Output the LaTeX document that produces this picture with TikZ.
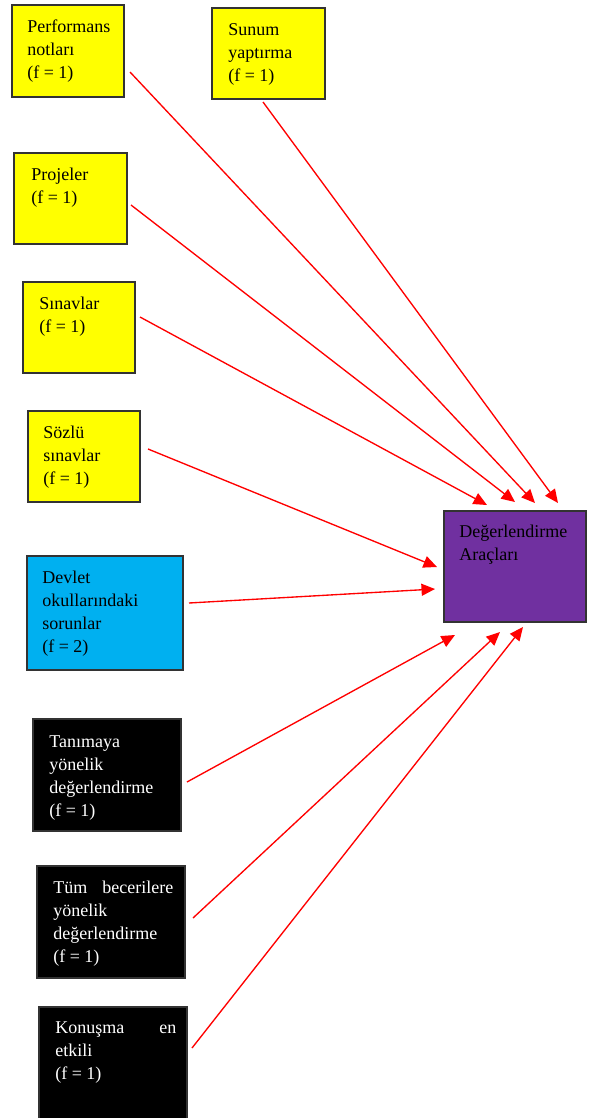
\documentclass[tikz,border=0pt]{standalone}
\usepackage{fontspec}
\setmainfont{Liberation Serif}
\usetikzlibrary{arrows.meta,fit}
\definecolor{yfill}{HTML}{FFFF00}
\definecolor{cfill}{HTML}{00B0F0}
\definecolor{pfill}{HTML}{7030A0}
\definecolor{edge}{HTML}{333333}
\begin{document}
\begin{tikzpicture}[x=0.6667pt,y=-0.6667pt,
  box/.style={draw=edge, line width=0.75pt, inner sep=0pt},
  ybox/.style={box, fill=yfill},
  cbox/.style={box, fill=cfill},
  pbox/.style={box, fill=pfill},
  kbox/.style={box, fill=black},
  txt/.style={anchor=north west, inner sep=0pt, align=left, font=\fontsize{12}{15.4}\selectfont},
  wtxt/.style={txt, text=white},
  arr/.style={red, line width=0.9pt, -{Triangle[length=9pt,width=8pt]}}]
\useasboundingbox (0,0) rectangle (589,1118);

% boxes
\node[ybox, fit={(12,5) (124,97)}] (perf) {};
\node[ybox, fit={(212,8) (325,99)}] (sunum) {};
\node[ybox, fit={(14,153) (127,244)}] (proj) {};
\node[ybox, fit={(23,282) (135,373)}] (sinav) {};
\node[ybox, fit={(28,411) (140,502)}] (sozlu) {};
\node[cbox, fit={(27,556) (183,670)}] (devlet) {};
\node[pbox, fit={(444,511) (586,622)}] (deg) {};
\node[kbox, fit={(33,719) (181,831)}] (tan) {};
\node[kbox, fit={(37,866) (185,978)}] (tum) {};
\node[kbox, fit={(39,1007) (187,1130)}] (kon) {};

% texts (top = first baseline - 13.5)
\node[txt] (perf-t) at (27,18.5) {\rule{0pt}{9pt}Performans\\notları\\(f = 1)};
\node[txt] (sunum-t) at (228,21.5) {\rule{0pt}{9pt}Sunum\\yaptırma\\(f = 1)};
\node[txt] (proj-t) at (31,166.5) {\rule{0pt}{9pt}Projeler\\(f = 1)};
\node[txt] (sinav-t) at (39,295.5) {\rule{0pt}{9pt}Sınavlar\\(f = 1)};
\node[txt] (sozlu-t) at (43,424.5) {\rule{0pt}{9pt}Sözlü\\sınavlar\\(f = 1)};
\node[txt] (devlet-t) at (42,569.5) {\rule{0pt}{9pt}Devlet\\okullarındaki\\sorunlar\\(f = 2)};
\node[txt] (deg-t) at (459,523.5) {\rule{0pt}{9pt}Değerlendirme\\Araçları};
\node[wtxt] (tan-t) at (49,733.5) {\rule{0pt}{9pt}Tanımaya\\yönelik\\değerlendirme\\(f = 1)};
\node[wtxt] (tum-t) at (53,879.5) {\rule{0pt}{9pt}\makebox[80pt][s]{Tüm becerilere}\\yönelik\\değerlendirme\\(f = 1)};
\node[wtxt] (kon-t) at (55,1019.5) {\rule{0pt}{9pt}\makebox[80.7pt][s]{Konuşma en}\\etkili\\(f = 1)};

% connector end points
\coordinate (sunum-o) at (263,102);
\coordinate (perf-o) at (130,72);
\coordinate (proj-o) at (131,205);
\coordinate (sinav-o) at (140,317);
\coordinate (sozlu-o) at (148,449);
\coordinate (devlet-o) at (189,603);
\coordinate (tan-o) at (187,782);
\coordinate (tum-o) at (193,918);
\coordinate (kon-o) at (192,1048);

\coordinate (deg-i1) at (558,503);
\coordinate (deg-i2) at (535,503);
\coordinate (deg-i3) at (515,502);
\coordinate (deg-i4) at (487,505);
\coordinate (deg-i5) at (437,567);
\coordinate (deg-i6) at (435,589);
\coordinate (deg-i7) at (455,635);
\coordinate (deg-i8) at (500,632);
\coordinate (deg-i9) at (523,627);

\draw[arr] (sunum-o) -- (deg-i1);
\draw[arr] (perf-o) -- (deg-i2);
\draw[arr] (proj-o) -- (deg-i3);
\draw[arr] (sinav-o) -- (deg-i4);
\draw[arr] (sozlu-o) -- (deg-i5);
\draw[arr] (devlet-o) -- (deg-i6);
\draw[arr] (tan-o) -- (deg-i7);
\draw[arr] (tum-o) -- (deg-i8);
\draw[arr] (kon-o) -- (deg-i9);
\end{tikzpicture}
\end{document}
